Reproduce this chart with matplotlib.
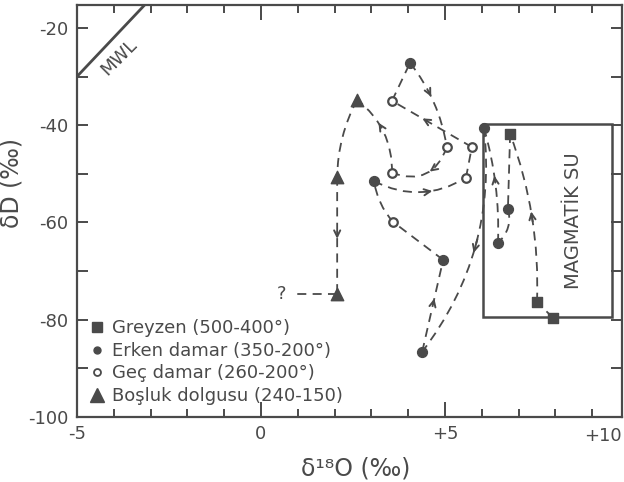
import matplotlib.pyplot as plt
import numpy as np
from matplotlib.patches import PathPatch, Rectangle
from matplotlib.path import Path
from matplotlib.lines import Line2D
from matplotlib.ticker import MultipleLocator, FixedLocator

plt.rcParams['axes.unicode_minus'] = False
plt.rcParams['font.family'] = ['DejaVu Sans']

# samples in the order the arrows follow them
path_x = [7.93, 7.50, 6.77, 6.71, 6.44, 6.06, 4.38, 4.95, 3.59, 3.07,
          5.57, 5.73, 3.56, 4.05, 5.05, 3.56, 2.61, 2.07, 2.07]
path_y = [-79.6, -76.3, -41.8, -57.2, -64.2, -40.6, -86.6, -67.7, -59.9, -51.5,
          -50.8, -44.5, -35.0, -27.2, -44.5, -49.8, -34.8, -50.6, -74.7]
path_group = ['greyzen', 'greyzen', 'greyzen', 'erken', 'erken', 'erken', 'erken',
              'erken', 'gec', 'erken', 'gec', 'gec', 'gec', 'erken', 'gec', 'gec',
              'bosluk', 'bosluk', 'bosluk']
unknown_x = 0.55   # "?" end of the last dashed line

labels = {'greyzen': 'Greyzen (500-400°)',
          'erken': 'Erken damar (350-200°)',
          'gec': 'Geç damar (260-200°)',
          'bosluk': 'Boşluk dolgusu (240-150)'}

magma_box = (6.04, 9.55, -79.4, -39.7)   # x0, x1, y0, y1
mwl_x = [-5, -3.16]

ink = '#4a4a4a'

fig = plt.figure(figsize=(6.24, 4.82), dpi=100)
ax = fig.add_axes([77 / 624, 1 - 417 / 482, 545 / 624, 412 / 482])
ax.set_xlim(-5, 9.81)
ax.set_ylim(-100, -15.3)

# curvature of each link (screen space, like arc3) and arrow position
bends = [0, 0.1, 0, -0.3, 0.08, -0.2, 0, 0, -0.15, 0.28,
         0, 0, 0, -0.13, -0.5, 0.25, 0.12, 0]
arrows = [None, 0.5, None, None, 0.55, 0.5, 0.55, None, None, 0.6,
          None, 0.59, None, 0.4, 0.4, 0.6, None, 0.5]


def control(p, q, rad):
    tr = ax.transData
    (x1, y1), (x2, y2) = tr.transform([p, q])
    cx = (x1 + x2) / 2 + rad * (y2 - y1)
    cy = (y1 + y2) / 2 - rad * (x2 - x1)
    return tr.inverted().transform((cx, cy))


dash = (0, (5, 3.5))
for i in range(len(path_x) - 1):
    p = np.array([path_x[i], path_y[i]])
    q = np.array([path_x[i + 1], path_y[i + 1]])
    c = control(p, q, bends[i])
    ax.add_patch(PathPatch(Path([p, c, q], [Path.MOVETO, Path.CURVE3, Path.CURVE3]),
                           fill=False, ec=ink, lw=1.3, ls=dash, zorder=2))
    t = arrows[i]
    if t is not None:
        b = (1 - t) ** 2 * p + 2 * (1 - t) * t * c + t ** 2 * q
        d = 2 * (1 - t) * (c - p) + 2 * t * (q - c)
        ax.annotate('', xy=b + 0.03 * d, xytext=b - 0.03 * d,
                    arrowprops=dict(arrowstyle='->,head_length=0.45,head_width=0.22',
                                    color=ink, lw=1.4, shrinkA=0, shrinkB=0), zorder=3)

# last link to the unknown end
ax.plot([path_x[-1], unknown_x + 0.35], [path_y[-1], path_y[-1]], color=ink, lw=1.3, ls=dash)
ax.text(unknown_x, path_y[-1], '?', fontsize=13, color=ink, ha='center', va='center')

# markers by group
path_x = np.array(path_x)
path_y = np.array(path_y)
grp = np.array(path_group)
m = grp == 'greyzen'
ax.scatter(path_x[m], path_y[m], marker='s', s=55, color=ink, zorder=4)
m = grp == 'erken'
ax.scatter(path_x[m], path_y[m], marker='o', s=50, color=ink, zorder=4)
m = grp == 'gec'
ax.scatter(path_x[m], path_y[m], marker='o', s=38, facecolor='white', edgecolor=ink,
           linewidth=1.6, zorder=4)
m = grp == 'bosluk'
ax.scatter(path_x[m], path_y[m], marker='^', s=80, color=ink, zorder=4)

# magmatic water box
x0, x1, y0, y1 = magma_box
ax.add_patch(Rectangle((x0, y0), x1 - x0, y1 - y0, fill=False, ec=ink, lw=1.8, zorder=1))
ax.text((x0 + x1) / 2 + 0.7, (y0 + y1) / 2, 'MAGMATİK SU', rotation=90, fontsize=14,
        color=ink, ha='center', va='center')

# meteoric water line, dD = 8 d18O + 10
mx = np.array(mwl_x)
ax.plot(mx, 8 * mx + 10, color=ink, lw=2)
ax.text(-3.85, -26.0, 'MWL', rotation=45, fontsize=13, color=ink, ha='center', va='center')

# axes style
for s in ax.spines.values():
    s.set_color(ink)
    s.set_linewidth(1.6)
ax.xaxis.set_major_locator(FixedLocator([-5, 0, 5]))
ax.set_xticklabels(['-5', '0', '+5'])
ax.xaxis.set_minor_locator(MultipleLocator(1))
ax.yaxis.set_major_locator(MultipleLocator(20))
ax.yaxis.set_minor_locator(MultipleLocator(10))
ax.tick_params(which='both', direction='in', top=True, right=True, color=ink,
               width=1.4, labelsize=13, labelcolor=ink, pad=6)
ax.tick_params(axis='x', which='major', length=11)
ax.tick_params(axis='x', which='minor', length=6)
ax.tick_params(axis='y', which='both', length=8)
ax.text(1.0, -0.025, '+10', transform=ax.transAxes, fontsize=13, color=ink,
        ha='right', va='top')

ax.set_xlabel('δ¹⁸O (‰)', fontsize=17, color=ink)
ax.xaxis.set_label_coords(0.512, -0.095)
ax.set_ylabel('δD (‰)', fontsize=17, color=ink)
ax.yaxis.set_label_coords(-0.098, 0.568)

handles = [
    Line2D([], [], ls='none', marker='s', ms=7, color=ink),
    Line2D([], [], ls='none', marker='o', ms=5, color=ink),
    Line2D([], [], ls='none', marker='o', ms=5, mfc='white', mec=ink, mew=1.3),
    Line2D([], [], ls='none', marker='^', ms=10, color=ink),
]
leg = ax.legend(handles, [labels[k] for k in ['greyzen', 'erken', 'gec', 'bosluk']],
                loc='lower left', bbox_to_anchor=(0.02, 0.025), frameon=False,
                fontsize=13, handlelength=0.8, handletextpad=0.45, labelspacing=0.25,
                borderpad=0.1, borderaxespad=0)
for t in leg.get_texts():
    t.set_color(ink)

fig.savefig('out.png', dpi=100, facecolor='white')
